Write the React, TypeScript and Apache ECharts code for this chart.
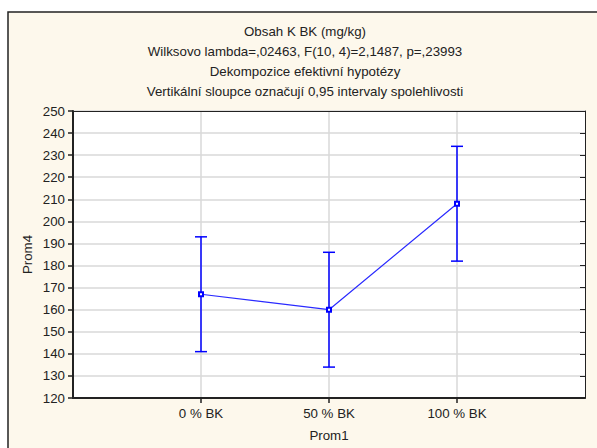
import React, { useEffect, useRef } from "react";
import * as echarts from "echarts";

const titleLines = [
  "Obsah K BK (mg/kg)",
  "Wilksovo lambda=,02463, F(10, 4)=2,1487, p=,23993",
  "Dekompozice efektivní hypotézy",
  "Vertikální sloupce označují 0,95 intervaly spolehlivosti",
];
const categories = ["0 % BK", "50 % BK", "100 % BK"];
const means = [167, 160, 208];
const lower = [141, 134, 182];
const upper = [193, 186, 234];
const xName = "Prom1";
const yName = "Prom4";
const yMin = 120;
const yMax = 250;
const yStep = 10;

const FONT = "Liberation Sans, Arial, sans-serif";
const FS = 13.3;
const TEXT = "#222";
const BLUE = "#0000ff";

export default function App() {
  const ref = useRef<HTMLDivElement>(null);
  useEffect(() => {
    document.body.style.margin = "0";
    const chart = echarts.init(ref.current!, null, { renderer: "svg" });
    const titleY = [31, 51, 71, 91];
    chart.setOption({
      animation: false,
      backgroundColor: "#ffffff",
      graphic: [
        {
          type: "rect",
          z: -10,
          silent: true,
          shape: { x: 8, y: 12, width: 620, height: 460 },
          style: { fill: "#fdf8ec", stroke: "#222", lineWidth: 1.5 },
        },
        ...titleLines.map((t, i) => ({
          type: "text",
          x: 305,
          y: titleY[i],
          silent: true,
          style: {
            text: t,
            align: "center",
            verticalAlign: "middle",
            font: `${FS}px ${FONT}`,
            fill: TEXT,
          },
        })),
      ],
      grid: {
        left: 73,
        top: 111,
        right: 12,
        bottom: 50,
        show: true,
        backgroundColor: "#ffffff",
        borderWidth: 0,
      },
      xAxis: [
        {
          type: "value",
          min: 0,
          max: 4,
          interval: 1,
          position: "bottom",
          z: 2,
          name: xName,
          nameLocation: "middle",
          nameGap: 31,
          nameTextStyle: { fontFamily: FONT, fontSize: FS, color: TEXT },
          axisLine: { show: true, lineStyle: { color: "#222", width: 2 } },
          axisTick: {
            show: true,
            length: 5,
            customValues: [1, 2, 3],
            lineStyle: { color: "#222", width: 1.5 },
          },
          axisLabel: {
            customValues: [1, 2, 3],
            formatter: (v: number) => categories[Math.round(v) - 1] ?? "",
            margin: 9,
            fontFamily: FONT,
            fontSize: FS,
            color: TEXT,
          },
          splitLine: { show: true, lineStyle: { color: "#d9d9d9", width: 1.5 } },
        },
        {
          type: "value",
          min: 0,
          max: 4,
          interval: 1,
          position: "top",
          z: 2,
          axisLine: { show: true, onZero: false, lineStyle: { color: "#222", width: 1 } },
          axisTick: { show: false },
          axisLabel: { show: false },
          splitLine: { show: false },
        },
      ],
      yAxis: [
        {
          type: "value",
          min: yMin,
          max: yMax,
          interval: yStep,
          position: "left",
          z: 2,
          name: yName,
          nameLocation: "middle",
          nameGap: 39,
          nameMoveOverlap: false,
          nameTextStyle: { fontFamily: FONT, fontSize: FS, color: TEXT },
          axisLine: { show: true, onZero: false, lineStyle: { color: "#222", width: 2 } },
          axisTick: { show: true, length: 5, lineStyle: { color: "#222", width: 1.5 } },
          axisLabel: { margin: 8, fontFamily: FONT, fontSize: FS, color: TEXT },
          splitLine: { show: true, lineStyle: { color: "#d9d9d9", width: 1.5 } },
        },
        {
          type: "value",
          min: yMin,
          max: yMax,
          interval: yStep,
          position: "right",
          z: 2,
          axisLine: { show: true, onZero: false, lineStyle: { color: "#222", width: 1 } },
          axisTick: { show: true, inside: true, length: 5, lineStyle: { color: "#222", width: 1 } },
          axisLabel: { show: false },
          splitLine: { show: false },
        },
      ],
      series: [
        {
          type: "custom",
          xAxisIndex: 0,
          yAxisIndex: 0,
          z: 3,
          data: categories.map((_, i) => [i + 1, lower[i], upper[i]]),
          renderItem: (params: any, api: any) => {
            const x = api.value(0);
            const lo = api.coord([x, api.value(1)]);
            const hi = api.coord([x, api.value(2)]);
            const cap = 6;
            const st = { stroke: BLUE, lineWidth: 1.5 };
            return {
              type: "group",
              children: [
                { type: "line", shape: { x1: lo[0], y1: lo[1], x2: hi[0], y2: hi[1] }, style: st },
                { type: "line", shape: { x1: lo[0] - cap, y1: lo[1], x2: lo[0] + cap, y2: lo[1] }, style: st },
                { type: "line", shape: { x1: hi[0] - cap, y1: hi[1], x2: hi[0] + cap, y2: hi[1] }, style: st },
              ],
            };
          },
        },
        {
          type: "line",
          xAxisIndex: 0,
          yAxisIndex: 0,
          z: 4,
          data: categories.map((_, i) => [i + 1, means[i]]),
          symbol: "emptyRect",
          symbolSize: 4,
          lineStyle: { color: "#2a2aff", width: 1.2 },
          itemStyle: { color: BLUE, borderWidth: 1.2 },
        },
      ],
    });
    return () => chart.dispose();
  }, []);
  return <div ref={ref} style={{ width: 597, height: 448 }} />;
}
